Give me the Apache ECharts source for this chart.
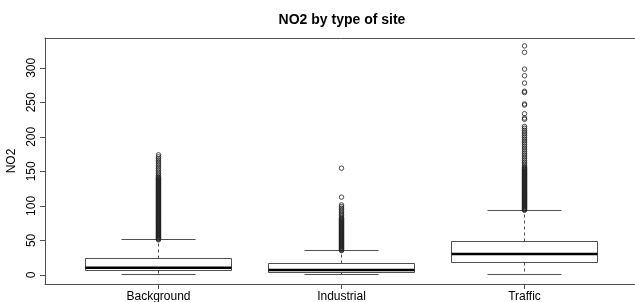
<!DOCTYPE html>
<html>
<head>
<meta charset="utf-8">
<script src="https://cdn.jsdelivr.net/npm/echarts@6/dist/echarts.min.js"></script>
<style>
html,body{margin:0;padding:0;background:#fff;}
#chart{width:635px;height:302px;}
</style>
</head>
<body>
<div id="chart"></div>
<script>
const categories = ['Background', 'Industrial', 'Traffic'];
const minVals = [0, 0, 0];
const q1Vals = [5.7, 3.8, 18.3];
const medVals = [10.4, 7.1, 30.3];
const q3Vals = [24.1, 16.3, 48.7];
const maxVals = [50.6, 34.7, 93.1];
const yTicks = [0, 50, 100, 150, 200, 250, 300];

const bgOutliers = [50.9, 51.8, 52.7, 53.7, 54.6, 55.6, 56.5, 57.5, 58.4, 59.4, 60.3, 61.3, 62.2, 63.2, 64.1, 65.1, 66, 67, 67.9, 68.9, 69.8, 70.8, 71.7, 72.7, 73.6, 74.6, 75.5, 76.5, 77.4, 78.4, 79.3, 80.3, 81.2, 82.2, 83.1, 84.1, 85, 86, 86.9, 87.9, 88.8, 89.8, 90.7, 91.7, 92.6, 93.6, 94.5, 95.5, 96.4, 97.4, 98.3, 99.3, 100.2, 101.2, 102.1, 103.1, 104, 105, 105.9, 106.9, 107.8, 108.8, 109.7, 110.7, 111.6, 112.6, 113.5, 114.5, 115.4, 116.4, 117.3, 118.3, 119.2, 120.2, 121.1, 122.1, 123, 124, 124.9, 125.9, 126.8, 127.8, 128.7, 129.7, 130.6, 131.6, 132.5, 133.5, 134.4, 135.4, 136.3, 137.3, 138.2, 139.2, 140.1, 141.1, 142, 144.3, 146.6, 149, 151.5, 153.9, 156.4, 158.8, 161.2, 163.7, 166.1, 168.5, 171, 173.9];
const indOutliers = [35.1, 36, 37, 37.9, 38.9, 39.8, 40.8, 41.7, 42.7, 43.6, 44.6, 45.5, 46.5, 47.4, 48.4, 49.3, 50.3, 51.2, 52.2, 53.1, 54.1, 55, 56, 56.9, 57.9, 58.8, 59.8, 60.7, 61.7, 62.6, 63.6, 64.5, 65.5, 66.4, 67.4, 68.3, 69.3, 70.2, 71.2, 72.1, 73.1, 74, 75, 75.9, 76.9, 77.8, 78.8, 79.7, 80.7, 81.6, 83.4, 85.5, 87.6, 89.8, 92, 94.3, 96.6, 99, 101.4, 112.6, 154.6];
const trOutliers = [93.6, 94.5, 95.5, 96.4, 97.4, 98.3, 99.3, 100.2, 101.2, 102.1, 103.1, 104, 105, 105.9, 106.9, 107.8, 108.8, 109.7, 110.7, 111.6, 112.6, 113.5, 114.5, 115.4, 116.4, 117.3, 118.3, 119.2, 120.2, 121.1, 122.1, 123, 124, 124.9, 125.9, 126.8, 127.8, 128.7, 129.7, 130.6, 131.6, 132.5, 133.5, 134.4, 135.4, 136.3, 137.3, 138.2, 139.2, 140.1, 141.1, 142, 143, 143.9, 144.9, 145.8, 146.8, 147.7, 148.7, 149.6, 150.6, 151.5, 152.5, 153.4, 154.4, 155.3, 156.3, 158.4, 160.9, 163.3, 165.8, 168.4, 170.9, 173.5, 176, 178.6, 181.2, 183.8, 186.3, 188.9, 191.5, 194, 196.6, 199.2, 201.7, 204.3, 206.9, 209.4, 212.4, 215, 225.4, 227.2, 233.5, 246.1, 247.6, 264.2, 266, 277.9, 288.5, 298.1, 322.4, 331.8];

const boxData = categories.map((c, i) => [i + 1, minVals[i], q1Vals[i], medVals[i], q3Vals[i], maxVals[i]]);
const outlierData = []
  .concat(bgOutliers.map(v => [1, v]))
  .concat(indOutliers.map(v => [2, v]))
  .concat(trOutliers.map(v => [3, v]));

const LINE = '#505050';
function crisp(v) { return Math.round(v - 0.5) + 0.5; }

function renderBox(params, api) {
  const x = api.value(0);
  const mn = api.value(1), q1 = api.value(2), md = api.value(3), q3 = api.value(4), mx = api.value(5);
  const bw = 0.4, cw = 0.2;
  const P = (xx, yy) => api.coord([xx, yy]);
  const cx = crisp(P(x, 0)[0]);
  const yMn = crisp(P(x, mn)[1]), yQ1 = crisp(P(x, q1)[1]), yMd = P(x, md)[1], yQ3 = crisp(P(x, q3)[1]), yMx = crisp(P(x, mx)[1]);
  const xL = crisp(P(x - bw, 0)[0]), xR = crisp(P(x + bw, 0)[0]);
  const cL = crisp(P(x - cw, 0)[0]), cR = crisp(P(x + cw, 0)[0]);
  const thin = { stroke: LINE, lineWidth: 1, fill: null };
  const dashed = { stroke: LINE, lineWidth: 1, lineDash: [3, 3], fill: null };
  return {
    type: 'group',
    children: [
      { type: 'line', shape: { x1: cx, y1: yQ3, x2: cx, y2: yMx }, style: dashed },
      { type: 'line', shape: { x1: cx, y1: yQ1, x2: cx, y2: yMn }, style: dashed },
      { type: 'line', shape: { x1: cL, y1: yMx, x2: cR, y2: yMx }, style: thin },
      { type: 'line', shape: { x1: cL, y1: yMn, x2: cR, y2: yMn }, style: thin },
      { type: 'rect', shape: { x: xL, y: yQ3, width: xR - xL, height: yQ1 - yQ3 }, style: thin },
      { type: 'line', shape: { x1: xL, y1: yMd, x2: xR, y2: yMd }, style: { stroke: '#000', lineWidth: 2.6 } }
    ]
  };
}

const FONT = 'Liberation Sans, Arial, sans-serif';
const chart = echarts.init(document.getElementById('chart'), null, { renderer: 'canvas' });
chart.setOption({
  animation: false,
  backgroundColor: '#fff',
  textStyle: { fontFamily: FONT },
  graphic: [{
    type: 'text',
    x: 342, y: 20,
    style: {
      text: 'NO2 by type of site',
      font: 'bold 14px "Liberation Sans", Arial, sans-serif',
      fill: '#000',
      textAlign: 'center',
      textVerticalAlign: 'middle'
    }
  }],
  grid: {
    left: 45, top: 38, right: -3, bottom: 18,
    outerBoundsMode: 'none',
    containLabel: false,
    show: false
  },
  xAxis: [{
    type: 'value', min: 0.38, max: 3.62, position: 'bottom',
    splitLine: { show: false },
    axisLine: { show: true, onZero: false, lineStyle: { color: LINE, width: 1 } },
    axisTick: { show: true, length: 5, customValues: [1, 2, 3], lineStyle: { color: LINE } },
    axisLabel: {
      customValues: [1, 2, 3], margin: 7, color: '#000', fontSize: 12, fontFamily: FONT,
      formatter: v => categories[Math.round(v) - 1] || ''
    }
  }, {
    type: 'value', min: 0.38, max: 3.62, position: 'top',
    splitLine: { show: false },
    axisLine: { show: true, onZero: false, lineStyle: { color: LINE, width: 1 } },
    axisTick: { show: false },
    axisLabel: { show: false }
  }],
  yAxis: {
    type: 'value', min: -13.2, max: 343.2,
    name: 'NO2', nameLocation: 'middle', nameGap: 23, nameRotate: 90,
    nameTextStyle: { color: '#000', fontSize: 12, fontFamily: FONT },
    splitLine: { show: false },
    axisLine: { show: true, onZero: false, lineStyle: { color: LINE, width: 1 } },
    axisTick: { show: true, length: 5, customValues: yTicks, lineStyle: { color: LINE } },
    axisLabel: {
      customValues: yTicks, rotate: 90, margin: 7, color: '#000', fontSize: 12, fontFamily: FONT
    }
  },
  series: [
    {
      type: 'custom',
      renderItem: renderBox,
      data: boxData,
      encode: { x: 0, y: [1, 2, 3, 4, 5] },
      z: 2
    },
    {
      type: 'scatter',
      data: outlierData,
      symbol: 'circle',
      symbolSize: 4.5,
      itemStyle: { color: 'rgba(0,0,0,0)', borderColor: '#222', borderWidth: 1 },
      z: 3
    }
  ]
});
</script>
</body>
</html>
